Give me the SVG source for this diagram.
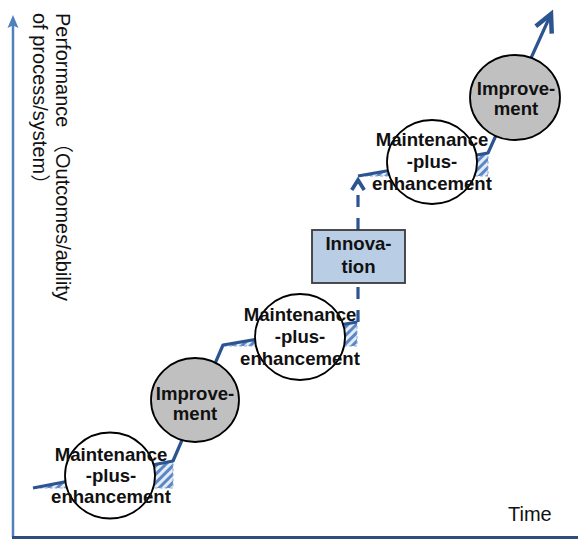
<svg xmlns="http://www.w3.org/2000/svg" width="578" height="543" viewBox="0 0 578 543">
<style>
.lbl{font-family:"Liberation Sans","Noto Sans CJK SC",Arial,sans-serif;font-size:20px;fill:#111}
.node{font-family:"Liberation Sans",Arial,sans-serif;font-size:18.6px;font-weight:bold;fill:#111;text-anchor:middle}
.maint{fill:#fff;stroke:#000;stroke-width:1.8}
.impr{fill:#c0c0c0;stroke:#000;stroke-width:1.8}
.innov{fill:#b9cde5;stroke:#3a3a3a;stroke-width:1.8}
.path{fill:none;stroke:#2c5490;stroke-width:3.2;stroke-linejoin:round}
.dashed{stroke-dasharray:12 11}
.hatch{fill:url(#stripes);stroke:#8eaad6;stroke-width:1;stroke-dasharray:3 2}
</style>
<defs>
<pattern id="stripes" patternUnits="userSpaceOnUse" width="6" height="6" patternTransform="rotate(45)">
<rect width="6" height="6" fill="#e4ecf7"/>
<rect width="3" height="6" fill="#5b87c4"/>
</pattern>
<marker id="arrBig" markerUnits="userSpaceOnUse" markerWidth="30" markerHeight="30" refX="0" refY="0" viewBox="-20 -12 24 24" orient="auto" overflow="visible">
<path d="M-14,-7 L0,0 L-14,7" fill="none" stroke="#2c5490" stroke-width="3.6" stroke-linejoin="miter" stroke-dasharray="none"/>
</marker>
<marker id="arrSmall" markerUnits="userSpaceOnUse" markerWidth="20" markerHeight="20" refX="0" refY="0" viewBox="-12 -8 16 16" orient="auto" overflow="visible">
<path d="M-8,-5 L0,0 L-8,5" fill="none" stroke="#2c5490" stroke-width="3" stroke-linejoin="miter" stroke-dasharray="none"/>
</marker>
</defs>
<rect width="578" height="543" fill="#fff"/>
<g id="axes">
<line x1="13" y1="537" x2="13" y2="25" stroke="#4f81bd" stroke-width="2.5"/>
<polygon points="13,15 7.5,28 13,25.5 18.5,28" fill="#4f81bd"/>
<line x1="12" y1="537.5" x2="578" y2="537.5" stroke="#2b4d80" stroke-width="3"/>
<text class="lbl" transform="translate(56,13) rotate(90)"><tspan x="0" y="0">Performance （Outcomes/ability</tspan><tspan x="0" y="23">of process/system）</tspan></text>
<text class="lbl" x="508" y="521">Time</text>
</g>
<g id="hatches">
<polygon class="hatch" points="33,488 173,461 173,488"/>
<polygon class="hatch" points="223,346 357,322 357,346"/>
<polygon class="hatch" points="358,176 488,153 488,176"/>
</g>
<g id="connectors">
<polyline class="path" points="33,488 173,461 223,345 357,322"/>
<line class="path dashed" x1="358" y1="322" x2="358" y2="180" marker-end="url(#arrSmall)"/>
<polyline class="path" points="358,176 488,153 551,14" marker-end="url(#arrBig)"/>
</g>
<g id="maint1">
<ellipse class="maint" cx="110" cy="475.5" rx="45" ry="43"/>
<text class="node"><tspan x="111" y="461">Maintenance</tspan><tspan x="111" y="482">-plus-</tspan><tspan x="111" y="503">enhancement</tspan></text>
</g>
<g id="improve1">
<ellipse class="impr" cx="195" cy="400" rx="44" ry="42"/>
<text class="node"><tspan x="195" y="400">Improve-</tspan><tspan x="195" y="420">ment</tspan></text>
</g>
<g id="maint2">
<ellipse class="maint" cx="300" cy="337" rx="45" ry="43"/>
<text class="node"><tspan x="300" y="321">Maintenance</tspan><tspan x="300" y="343">-plus-</tspan><tspan x="300" y="365">enhancement</tspan></text>
</g>
<g id="innovation">
<rect class="innov" x="312" y="230" width="93" height="53"/>
<text class="node"><tspan x="358.5" y="250">Innova-</tspan><tspan x="358.5" y="273">tion</tspan></text>
</g>
<g id="maint3">
<ellipse class="maint" cx="432" cy="162" rx="45" ry="42"/>
<text class="node"><tspan x="432" y="146">Maintenance</tspan><tspan x="432" y="168">-plus-</tspan><tspan x="432" y="190">enhancement</tspan></text>
</g>
<g id="improve2">
<ellipse class="impr" cx="515" cy="97.5" rx="45" ry="42.5"/>
<text class="node"><tspan x="516" y="95">Improve-</tspan><tspan x="516" y="115">ment</tspan></text>
</g>
</svg>
